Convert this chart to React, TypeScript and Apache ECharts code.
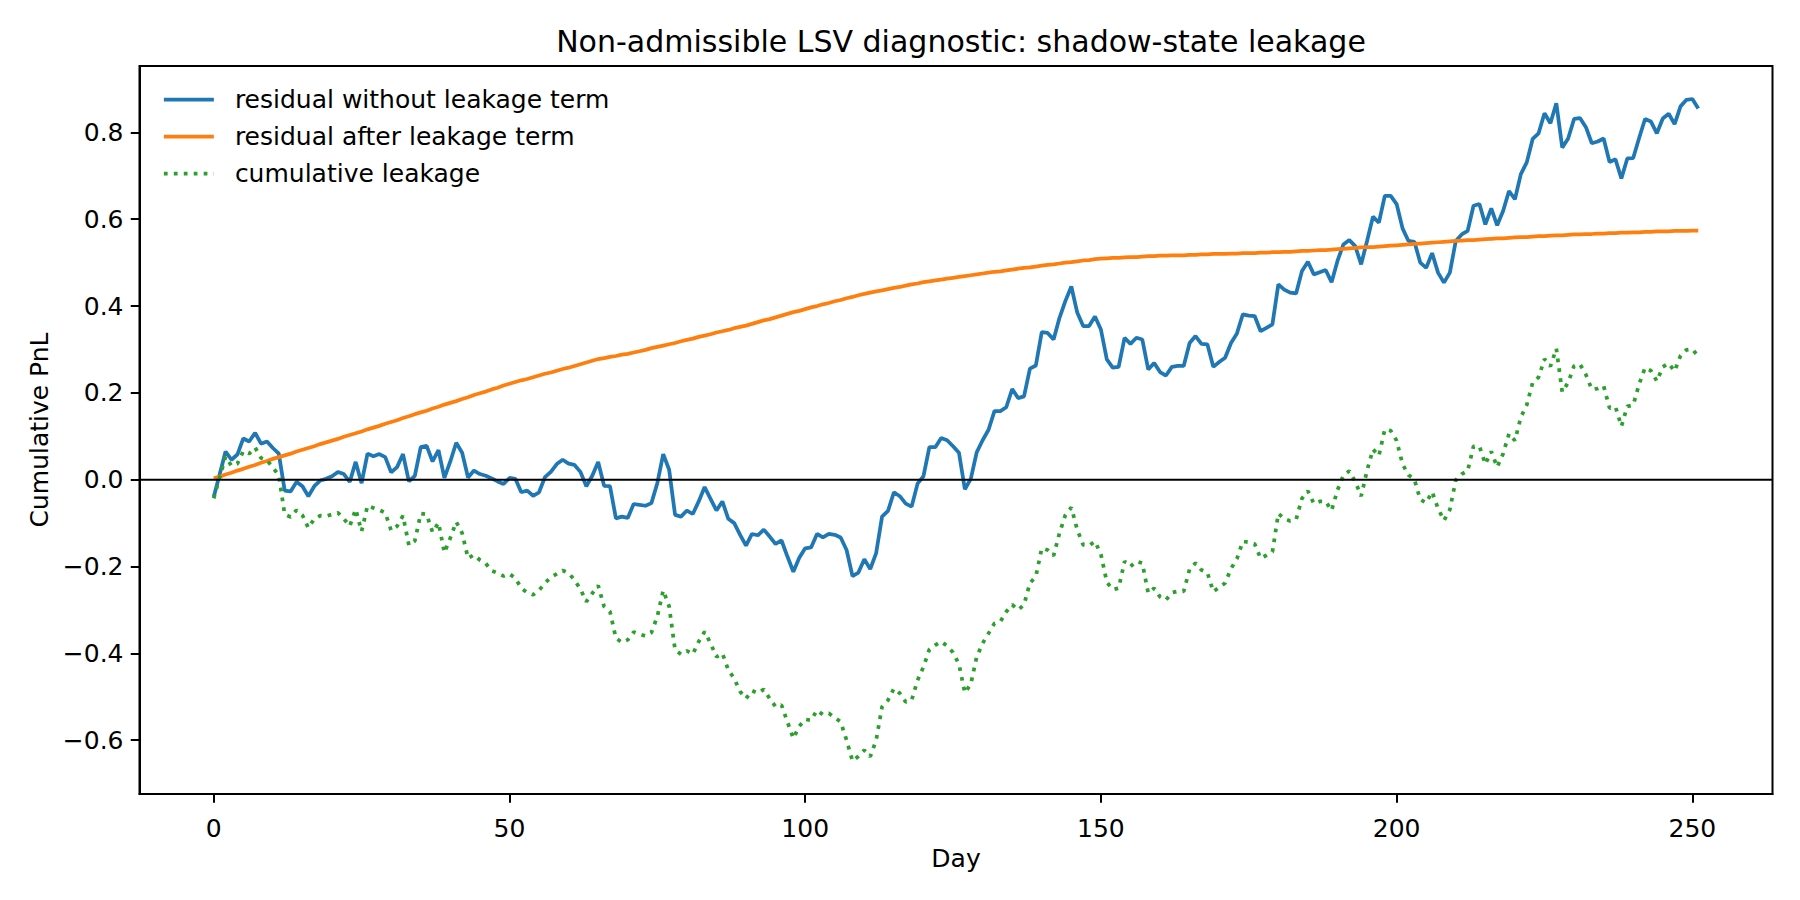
import React, { useEffect, useRef } from "react";
import * as echarts from "echarts";

// Day index 0..251
const residualWithoutLeakage = [
  -0.040, 0.012, 0.065, 0.046, 0.058, 0.095, 0.088, 0.108, 0.083, 0.088,
  0.073, 0.060, -0.025, -0.027, -0.005, -0.015, -0.038, -0.015, -0.002, 0.002,
  0.008, 0.018, 0.013, -0.005, 0.041, -0.008, 0.060, 0.054, 0.059, 0.052,
  0.017, 0.029, 0.059, -0.004, 0.009, 0.075, 0.078, 0.042, 0.068, 0.004,
  0.042, 0.085, 0.062, 0.005, 0.021, 0.013, 0.009, 0.003, -0.004, -0.010,
  0.004, 0.002, -0.029, -0.025, -0.037, -0.029, 0.006, 0.018, 0.036, 0.046,
  0.037, 0.034, 0.018, -0.015, 0.009, 0.041, -0.014, -0.015, -0.089, -0.085,
  -0.088, -0.056, -0.058, -0.060, -0.054, -0.008, 0.059, 0.023, -0.081, -0.085,
  -0.071, -0.079, -0.050, -0.017, -0.044, -0.071, -0.050, -0.090, -0.100, -0.127,
  -0.152, -0.125, -0.128, -0.115, -0.131, -0.148, -0.140, -0.177, -0.212, -0.180,
  -0.158, -0.156, -0.125, -0.133, -0.125, -0.127, -0.133, -0.162, -0.222, -0.214,
  -0.183, -0.206, -0.169, -0.085, -0.072, -0.029, -0.038, -0.055, -0.062, -0.009,
  0.008, 0.075, 0.075, 0.096, 0.091, 0.077, 0.062, -0.022, 0.002, 0.063,
  0.091, 0.115, 0.158, 0.158, 0.167, 0.209, 0.188, 0.192, 0.256, 0.263,
  0.340, 0.338, 0.323, 0.373, 0.412, 0.445, 0.385, 0.354, 0.354, 0.376,
  0.346, 0.277, 0.258, 0.260, 0.327, 0.313, 0.327, 0.323, 0.254, 0.269,
  0.248, 0.240, 0.260, 0.262, 0.262, 0.315, 0.331, 0.313, 0.312, 0.260,
  0.271, 0.281, 0.315, 0.337, 0.381, 0.378, 0.377, 0.342, 0.350, 0.358,
  0.450, 0.438, 0.431, 0.429, 0.481, 0.502, 0.473, 0.478, 0.483, 0.455,
  0.504, 0.542, 0.552, 0.538, 0.496, 0.550, 0.606, 0.592, 0.654, 0.654,
  0.635, 0.579, 0.550, 0.548, 0.500, 0.488, 0.522, 0.477, 0.454, 0.477,
  0.550, 0.565, 0.573, 0.631, 0.635, 0.588, 0.625, 0.586, 0.619, 0.665,
  0.646, 0.704, 0.731, 0.785, 0.798, 0.844, 0.821, 0.867, 0.765, 0.786,
  0.831, 0.833, 0.812, 0.775, 0.779, 0.786, 0.732, 0.738, 0.694, 0.740,
  0.741, 0.787, 0.831, 0.825, 0.798, 0.832, 0.843, 0.819, 0.860, 0.875,
  0.877, 0.855,
];

const residualAfterLeakage = [
  0.003, 0.007, 0.012, 0.016, 0.021, 0.025, 0.030, 0.034, 0.039, 0.043,
  0.048, 0.052, 0.056, 0.060, 0.065, 0.069, 0.073, 0.077, 0.082, 0.086,
  0.090, 0.094, 0.099, 0.103, 0.107, 0.111, 0.116, 0.120, 0.124, 0.129,
  0.133, 0.137, 0.142, 0.146, 0.151, 0.155, 0.159, 0.164, 0.168, 0.173,
  0.177, 0.181, 0.186, 0.190, 0.195, 0.199, 0.203, 0.208, 0.212, 0.217,
  0.221, 0.225, 0.229, 0.232, 0.236, 0.240, 0.244, 0.247, 0.251, 0.255,
  0.258, 0.262, 0.266, 0.270, 0.274, 0.278, 0.280, 0.283, 0.285, 0.288,
  0.290, 0.293, 0.296, 0.299, 0.303, 0.306, 0.309, 0.312, 0.315, 0.319,
  0.322, 0.325, 0.329, 0.332, 0.335, 0.339, 0.342, 0.345, 0.349, 0.352,
  0.355, 0.359, 0.363, 0.367, 0.370, 0.374, 0.378, 0.382, 0.386, 0.389,
  0.393, 0.397, 0.400, 0.404, 0.407, 0.411, 0.414, 0.418, 0.421, 0.425,
  0.428, 0.431, 0.434, 0.436, 0.439, 0.442, 0.444, 0.447, 0.450, 0.452,
  0.455, 0.457, 0.459, 0.461, 0.463, 0.465, 0.467, 0.469, 0.471, 0.473,
  0.475, 0.477, 0.479, 0.480, 0.482, 0.484, 0.486, 0.488, 0.489, 0.491,
  0.493, 0.495, 0.496, 0.498, 0.500, 0.501, 0.503, 0.505, 0.506, 0.508,
  0.509, 0.510, 0.511, 0.511, 0.512, 0.513, 0.513, 0.514, 0.515, 0.515,
  0.516, 0.516, 0.517, 0.517, 0.517, 0.518, 0.518, 0.519, 0.519, 0.520,
  0.520, 0.520, 0.521, 0.521, 0.522, 0.522, 0.522, 0.523, 0.523, 0.524,
  0.524, 0.525, 0.525, 0.526, 0.527, 0.527, 0.528, 0.529, 0.529, 0.530,
  0.531, 0.532, 0.533, 0.534, 0.535, 0.536, 0.536, 0.537, 0.538, 0.539,
  0.540, 0.541, 0.542, 0.543, 0.544, 0.545, 0.546, 0.547, 0.548, 0.549,
  0.550, 0.551, 0.552, 0.552, 0.553, 0.554, 0.555, 0.556, 0.556, 0.557,
  0.558, 0.559, 0.559, 0.560, 0.561, 0.561, 0.562, 0.563, 0.563, 0.564,
  0.565, 0.565, 0.566, 0.566, 0.567, 0.567, 0.568, 0.568, 0.569, 0.569,
  0.570, 0.570, 0.571, 0.571, 0.572, 0.572, 0.572, 0.573, 0.573, 0.573,
  0.574, 0.574,
];

const cumulativeLeakage = [
  -0.043, 0.005, 0.053, 0.032, 0.037, 0.066, 0.060, 0.074, 0.050, 0.045,
  0.028, 0.010, -0.080, -0.086, -0.070, -0.082, -0.111, -0.090, -0.083, -0.084,
  -0.080, -0.076, -0.090, -0.107, -0.068, -0.119, -0.060, -0.065, -0.070, -0.076,
  -0.117, -0.107, -0.083, -0.151, -0.141, -0.078, -0.080, -0.121, -0.099, -0.168,
  -0.134, -0.097, -0.123, -0.181, -0.173, -0.185, -0.193, -0.210, -0.215, -0.222,
  -0.217, -0.227, -0.250, -0.260, -0.265, -0.255, -0.238, -0.225, -0.217, -0.209,
  -0.215, -0.231, -0.252, -0.281, -0.262, -0.244, -0.292, -0.304, -0.365, -0.375,
  -0.369, -0.351, -0.356, -0.360, -0.352, -0.315, -0.255, -0.292, -0.392, -0.402,
  -0.394, -0.402, -0.373, -0.350, -0.377, -0.408, -0.400, -0.438, -0.458, -0.488,
  -0.504, -0.486, -0.492, -0.483, -0.504, -0.523, -0.519, -0.558, -0.596, -0.568,
  -0.552, -0.554, -0.531, -0.541, -0.538, -0.548, -0.558, -0.600, -0.648, -0.637,
  -0.623, -0.638, -0.600, -0.523, -0.508, -0.481, -0.492, -0.512, -0.508, -0.462,
  -0.431, -0.391, -0.381, -0.373, -0.383, -0.398, -0.425, -0.491, -0.471, -0.408,
  -0.377, -0.354, -0.331, -0.327, -0.304, -0.288, -0.300, -0.288, -0.238, -0.223,
  -0.158, -0.162, -0.175, -0.123, -0.081, -0.064, -0.115, -0.150, -0.152, -0.142,
  -0.172, -0.236, -0.253, -0.250, -0.188, -0.200, -0.188, -0.192, -0.261, -0.250,
  -0.270, -0.277, -0.260, -0.257, -0.257, -0.206, -0.192, -0.208, -0.214, -0.258,
  -0.248, -0.238, -0.205, -0.182, -0.142, -0.144, -0.148, -0.181, -0.174, -0.166,
  -0.078, -0.090, -0.095, -0.092, -0.043, -0.026, -0.055, -0.050, -0.050, -0.071,
  -0.024, 0.010, 0.020, -0.004, -0.038, 0.021, 0.070, 0.055, 0.116, 0.113,
  0.090, 0.036, 0.011, 0.001, -0.046, -0.053, -0.028, -0.066, -0.094, -0.069,
  -0.001, 0.013, 0.020, 0.077, 0.077, 0.036, 0.065, 0.029, 0.060, 0.106,
  0.090, 0.144, 0.172, 0.224, 0.236, 0.278, 0.261, 0.302, 0.202, 0.224,
  0.262, 0.266, 0.242, 0.208, 0.210, 0.216, 0.165, 0.168, 0.123, 0.169,
  0.172, 0.220, 0.258, 0.251, 0.227, 0.260, 0.268, 0.250, 0.286, 0.299,
  0.301, 0.284,
];

const seriesNames = [
  "residual without leakage term",
  "residual after leakage term",
  "cumulative leakage",
];
const seriesColors = ["#1f77b4", "#ff7f0e", "#2ca02c"];
const xTicks = [0, 50, 100, 150, 200, 250];
const yTicks = [-0.6, -0.4, -0.2, 0, 0.2, 0.4, 0.6, 0.8];
const titleText = "Non-admissible LSV diagnostic: shadow-state leakage";
const xAxisName = "Day";
const yAxisName = "Cumulative PnL";

const FONT = "DejaVu Sans";
const X_MIN = -12.55;
const X_MAX = 263.55;
const Y_MIN = -0.724;
const Y_MAX = 0.953;

const toPairs = (arr: number[]) => arr.map((v, i) => [i, v]);
const fmtY = (v: number) => {
  const s = Math.abs(v).toFixed(1);
  return v < -1e-9 ? "\u2212" + s : s;
};

export default function App() {
  const ref = useRef<HTMLDivElement>(null);

  useEffect(() => {
    if (!ref.current) return;
    const chart = echarts.init(ref.current, undefined, { renderer: "svg" });
    const lineW = 3.75;
    const axisCommon = {
      axisLine: { show: true, onZero: false, lineStyle: { color: "#000", width: 2 } },
      splitLine: { show: false },
      nameTextStyle: { fontFamily: FONT, fontSize: 25, color: "#000" },
    };
    chart.setOption({
      animation: false,
      backgroundColor: "#ffffff",
      title: {
        text: titleText,
        left: 956,
        top: 21,
        textAlign: "center",
        textStyle: { fontFamily: FONT, fontSize: 30, fontWeight: "normal", color: "#000", lineHeight: 30 },
      },
      legend: {
        orient: "vertical",
        left: 162,
        top: 87,
        padding: 0,
        itemWidth: 50,
        itemHeight: 25,
        itemGap: 12,
        data: seriesNames,
        itemStyle: { opacity: 0, color: "transparent", borderColor: "transparent", borderWidth: 0 },
        lineStyle: { width: lineW },
        textStyle: { fontFamily: FONT, fontSize: 25, color: "#000", padding: [0, 0, 0, 16] },
      },
      grid: {
        left: 139.5,
        top: 66,
        width: 1633,
        height: 728,
        show: true,
        borderColor: "#000",
        borderWidth: 2,
        backgroundColor: "transparent",
      },
      xAxis: {
        type: "value",
        min: X_MIN,
        max: X_MAX,
        name: xAxisName,
        nameLocation: "middle",
        nameGap: 48,
        ...axisCommon,
        axisTick: { show: true, length: 8.75, customValues: xTicks, lineStyle: { color: "#000", width: 2 } },
        axisLabel: {
          customValues: xTicks,
          fontFamily: FONT,
          fontSize: 25,
          color: "#000",
          margin: 22,
          formatter: (v: number) => String(Math.round(v)),
        },
      },
      yAxis: {
        type: "value",
        min: Y_MIN,
        max: Y_MAX,
        name: yAxisName,
        nameLocation: "middle",
        nameGap: 86,
        nameRotate: 90,
        ...axisCommon,
        axisTick: { show: true, length: 8.75, customValues: yTicks, lineStyle: { color: "#000", width: 2 } },
        axisLabel: {
          customValues: yTicks,
          fontFamily: FONT,
          fontSize: 25,
          color: "#000",
          margin: 16,
          formatter: fmtY,
        },
      },
      series: [
        {
          name: seriesNames[0],
          type: "line",
          data: toPairs(residualWithoutLeakage),
          showSymbol: false,
          symbol: "none",
          color: seriesColors[0],
          lineStyle: { color: seriesColors[0], width: lineW },
          silent: true,
        },
        {
          name: seriesNames[1],
          type: "line",
          data: toPairs(residualAfterLeakage),
          showSymbol: false,
          symbol: "none",
          color: seriesColors[1],
          lineStyle: { color: seriesColors[1], width: lineW },
          silent: true,
        },
        {
          name: seriesNames[2],
          type: "line",
          data: toPairs(cumulativeLeakage),
          showSymbol: false,
          symbol: "none",
          color: seriesColors[2],
          lineStyle: { color: seriesColors[2], width: lineW, type: [3.75, 6.2], cap: "butt" },
          silent: true,
        },
        {
          name: "zero",
          type: "line",
          data: [[X_MIN, 0], [X_MAX, 0]],
          showSymbol: false,
          symbol: "none",
          color: "#000",
          lineStyle: { color: "#000", width: 2 },
          silent: true,
        },
      ],
    });
    return () => chart.dispose();
  }, []);

  return (
    <div
      ref={ref}
      style={{ position: "fixed", left: 0, top: 0, width: 1800, height: 900, background: "#fff" }}
    />
  );
}
